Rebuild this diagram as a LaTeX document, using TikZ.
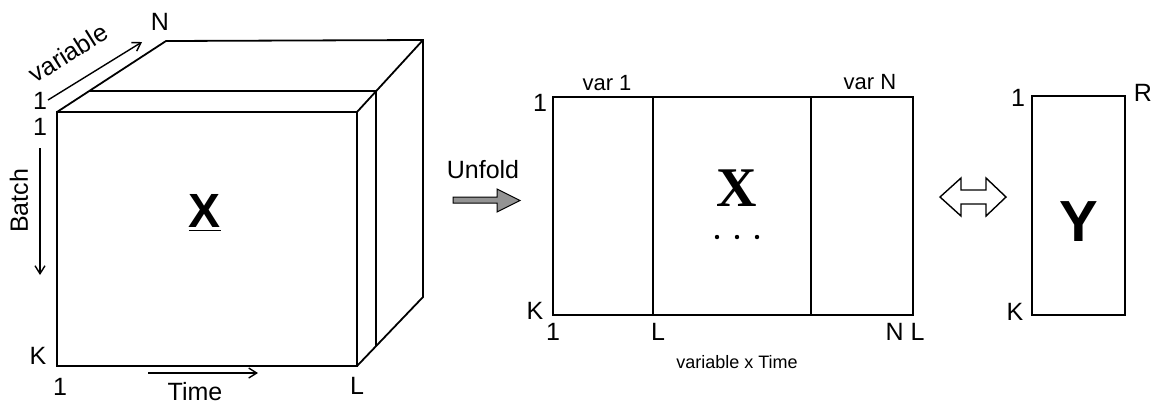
\documentclass[tikz,border=0pt]{standalone}
\usepackage{fontspec}
\setmainfont{Liberation Sans}
\newfontfamily\timesfont{Liberation Serif}
\usetikzlibrary{arrows.meta}

\begin{document}
\begin{tikzpicture}[x=.5pt,y=-.5pt,line width=.9pt,>={Straight Barb[length=4pt,width=5pt]},
  lbl/.style={inner sep=0pt,font=\fontsize{12.5}{14}\selectfont},
  small/.style={inner sep=0pt,font=\fontsize{9}{11}\selectfont},
  axis/.style={->,line width=.7pt}]
\useasboundingbox (0,0) rectangle (1155,404);
% the three way array
\draw (57,112) rectangle (357,366);
\draw (57,112)--(166,41)--(423,40)--(423,297)--(357,366);
\draw (357,112)--(423,40);
\draw (89,91)--(376,91)--(376,346);
\node[inner sep=0pt,font=\fontsize{24}{26}\selectfont\bfseries] (cubex) at (205,213) {\underline{X}};
% axes of the array
\coordinate (va) at (48,100); \coordinate (vb) at (142,42);
\draw[axis] (va)--(vb);
\node[lbl,rotate=32] (varlbl) at (68,53) {variable};
\node[lbl] (n) at (160,22) {N};
\node[lbl] (one1) at (40,101) {1};
\node[lbl] (one2) at (40,127) {1};
\coordinate (ba) at (40,148); \coordinate (bb) at (40,275);
\draw[axis] (ba)--(bb);
\node[lbl,rotate=90] (batchlbl) at (19,201) {Batch};
\node[lbl] (k) at (38,356) {K};
\node[lbl] (one3) at (60,387) {1};
\coordinate (ta) at (148,373); \coordinate (tb) at (258,373);
\draw[axis] (ta)--(tb);
\node[lbl] (timelbl) at (195,392) {Time};
\node[lbl] (l) at (357,386) {L};
% unfold arrow
\node[inner sep=0pt,font=\fontsize{12.5}{14}\selectfont] (unfold) at (483,170) {Unfold};
\coordinate (ua) at (453,200);
\draw[line width=.5pt,fill=gray!85] (ua)++(0,-3)--(497,197)--(497,189)--(520,200.5)--(497,212)--(497,203)--(453,203)--cycle;
% unfolded matrix
\draw (553,97) rectangle (913,315);
\draw (653,97)--(653,315);
\draw (811,97)--(811,315);
\node[inner sep=0pt,font=\fontsize{28}{30}\timesfont\bfseries] (midx) at (737,188) {X};
\foreach \x in {717,737,757}{\fill (\x,237) circle (2.2);}
\node[lbl,font=\fontsize{11}{13}\selectfont] (var1) at (607,83) {var 1};
\node[lbl,font=\fontsize{11}{13}\selectfont] (varn) at (870,82) {var N};
\node[lbl] (mone) at (540,103) {1};
\node[lbl] (mk) at (535,311) {K};
\node[lbl] (mone2) at (553,332) {1};
\node[lbl] (ml) at (658,332) {L};
\node[lbl] (mnl) at (905,332) {N L};
\node[small] (vxt) at (737,362) {variable x Time};
% double arrow
\draw[line width=.7pt,fill=white] (940,197)--(961,178)--(961,190)--(986,190)--(986,178)--(1006,197)
  --(986,216)--(986,204)--(961,204)--(961,216)--cycle;
% quality matrix
\draw (1032,96) rectangle (1125,315);
\node[inner sep=0pt,font=\fontsize{29}{31}\selectfont\bfseries] (y) at (1079,222) {Y};
\node[lbl] (yone) at (1018,98) {1};
\node[lbl] (r) at (1143,93) {R};
\node[lbl] (yk) at (1015,312) {K};
\end{tikzpicture}
\end{document}
